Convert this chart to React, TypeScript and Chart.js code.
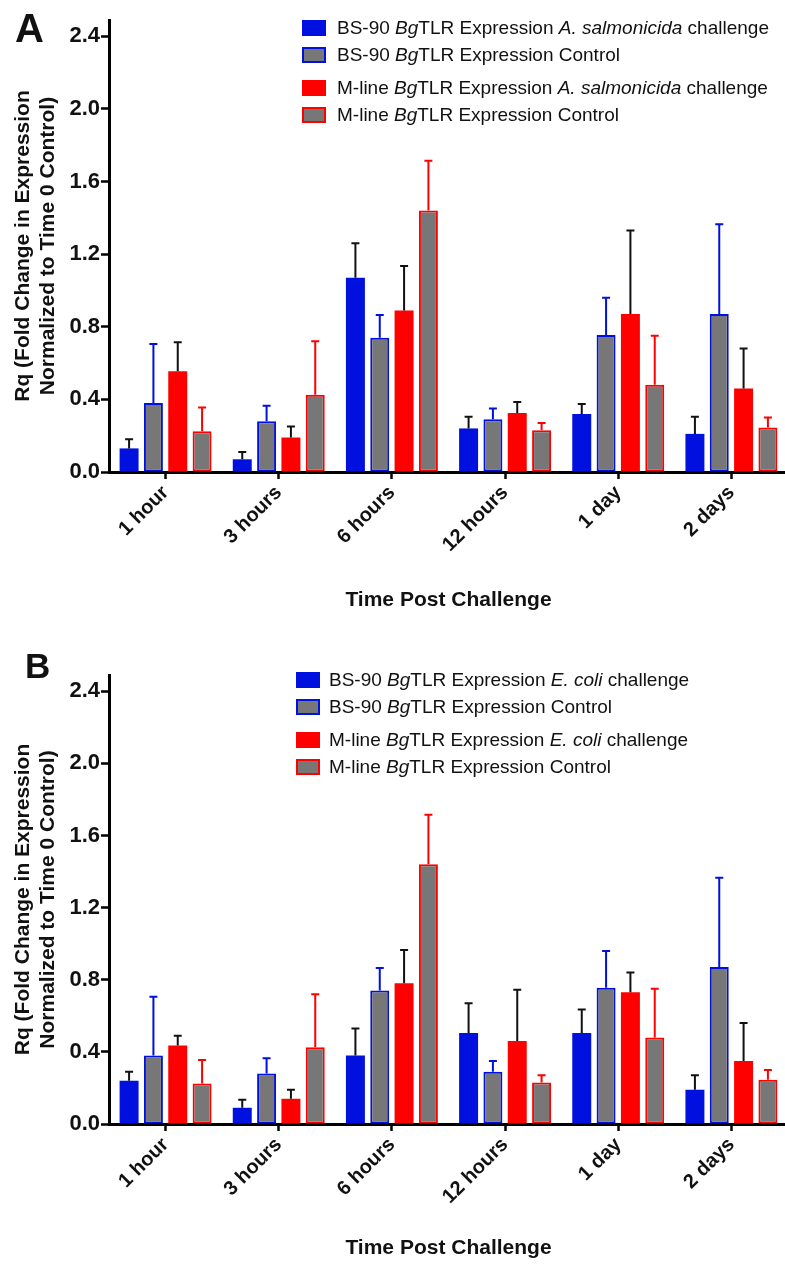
import React, { useEffect, useRef } from "react";
import { Chart, registerables } from "chart.js";

Chart.register(...registerables);

const FONT = '"Liberation Sans", Arial, Helvetica, sans-serif';

// ---------- data ----------
const categories = ["1 hour", "3 hours", "6 hours", "12 hours", "1 day", "2 days"];
const yTickValues = [0, 0.4, 0.8, 1.2, 1.6, 2.0, 2.4];

// Controls (same in both panels)
const bs90ControlMean = [0.38, 0.28, 0.74, 0.29, 0.755, 0.87];
const bs90ControlSD = [0.325, 0.085, 0.125, 0.06, 0.205, 0.495];
const mlineControlMean = [0.225, 0.425, 1.44, 0.23, 0.48, 0.245];
const mlineControlSD = [0.13, 0.295, 0.275, 0.04, 0.27, 0.055];

// Panel A: A. salmonicida challenge
const bs90SalmonicidaMean = [0.13, 0.07, 1.07, 0.24, 0.32, 0.21];
const bs90SalmonicidaSD = [0.05, 0.04, 0.19, 0.065, 0.055, 0.095];
const mlineSalmonicidaMean = [0.555, 0.19, 0.89, 0.325, 0.87, 0.46];
const mlineSalmonicidaSD = [0.16, 0.06, 0.245, 0.06, 0.46, 0.22];

// Panel B: E. coli challenge
const bs90EcoliMean = [0.24, 0.09, 0.38, 0.505, 0.505, 0.19];
const bs90EcoliSD = [0.05, 0.045, 0.15, 0.165, 0.13, 0.08];
const mlineEcoliMean = [0.435, 0.14, 0.78, 0.46, 0.73, 0.35];
const mlineEcoliSD = [0.055, 0.05, 0.185, 0.285, 0.11, 0.21];

type Seg = [string, boolean];
const legendA: Seg[][] = [
  [["BS-90 ", false], ["Bg", true], ["TLR Expression ", false], ["A. salmonicida", true], [" challenge", false]],
  [["BS-90 ", false], ["Bg", true], ["TLR Expression Control", false]],
  [["M-line ", false], ["Bg", true], ["TLR Expression ", false], ["A. salmonicida", true], [" challenge", false]],
  [["M-line ", false], ["Bg", true], ["TLR Expression Control", false]],
];
const legendB: Seg[][] = [
  [["BS-90 ", false], ["Bg", true], ["TLR Expression ", false], ["E. coli", true], [" challenge", false]],
  [["BS-90 ", false], ["Bg", true], ["TLR Expression Control", false]],
  [["M-line ", false], ["Bg", true], ["TLR Expression ", false], ["E. coli", true], [" challenge", false]],
  [["M-line ", false], ["Bg", true], ["TLR Expression Control", false]],
];

const yTitle = ["Rq (Fold Change in Expression", "Normalized to Time 0 Control)"];
const xTitle = "Time Post Challenge";

// ---------- styles ----------
const BLUE = "#0010DE";
const RED = "#FF0000";
const GREY = "#777777";
const BLACK = "#111111";

interface PanelProps {
  letter: string;
  letterSize: number;
  letterX: number;
  letterBaseline: number;
  legend: Seg[][];
  legendBoxX: number;
  legendTextX: number;
  challengeBs90: number[];
  challengeBs90SD: number[];
  challengeMline: number[];
  challengeMlineSD: number[];
  height: number;
  padTop: number;
  plotBottom: number;
  titleCenterY: number;
}

function Panel(p: PanelProps) {
  const ref = useRef<HTMLCanvasElement | null>(null);

  useEffect(() => {
    const canvas = ref.current;
    if (!canvas) return;
    const W = 790;
    const H = p.height;
    const xHeight = H - p.plotBottom;
    const titleFontSize = 21;
    const titleLH = 25;
    const titlePadBottom = H - p.titleCenterY - titleLH / 2;
    const legendRowsY = [28, 55, 88, 115];

    const decor = {
      id: "decor",
      afterDatasetsDraw(chart: any) {
        const ctx = chart.ctx;
        const yScale = chart.scales.y;
        ctx.save();
        chart.data.datasets.forEach((ds: any, i: number) => {
          const meta = chart.getDatasetMeta(i);
          meta.data.forEach((bar: any, j: number) => {
            const x = bar.x;
            const y0 = yScale.getPixelForValue(ds.data[j]);
            const y1 = yScale.getPixelForValue(ds.data[j] + ds.errors[j]);
            ctx.strokeStyle = ds.errorColor;
            ctx.lineWidth = 2;
            ctx.lineCap = "butt";
            ctx.beginPath();
            ctx.moveTo(x, y0);
            ctx.lineTo(x, y1);
            ctx.moveTo(x - 4, y1);
            ctx.lineTo(x + 4, y1);
            ctx.stroke();
          });
        });
        ctx.restore();
      },
      afterDraw(chart: any) {
        const ctx = chart.ctx;
        ctx.save();
        // panel letter
        ctx.fillStyle = BLACK;
        ctx.font = `bold ${p.letterSize}px ${FONT}`;
        ctx.textBaseline = "alphabetic";
        ctx.textAlign = "left";
        ctx.fillText(p.letter, p.letterX, p.letterBaseline);
        // legend
        const boxStyles = [
          { fill: BLUE, stroke: null },
          { fill: GREY, stroke: BLUE },
          { fill: RED, stroke: null },
          { fill: GREY, stroke: RED },
        ];
        p.legend.forEach((segs, r) => {
          const cy = legendRowsY[r];
          const bs = boxStyles[r];
          ctx.fillStyle = bs.fill;
          ctx.fillRect(p.legendBoxX, cy - 8, 24, 16);
          if (bs.stroke) {
            ctx.strokeStyle = bs.stroke;
            ctx.lineWidth = 2;
            ctx.strokeRect(p.legendBoxX + 1, cy - 7, 22, 14);
          }
          let x = p.legendTextX;
          ctx.fillStyle = BLACK;
          ctx.textBaseline = "middle";
          segs.forEach(([t, it]) => {
            ctx.font = `${it ? "italic " : ""}19px ${FONT}`;
            ctx.fillText(t, x, cy + 1);
            x += ctx.measureText(t).width;
          });
        });
        ctx.restore();
      },
    };

    const chart = new Chart(canvas, {
      type: "bar",
      data: {
        labels: categories,
        datasets: [
          {
            label: "BS-90 challenge",
            data: p.challengeBs90,
            errors: p.challengeBs90SD,
            errorColor: BLACK,
            backgroundColor: BLUE,
            borderWidth: 0,
          },
          {
            label: "BS-90 control",
            data: bs90ControlMean,
            errors: bs90ControlSD,
            errorColor: BLUE,
            backgroundColor: GREY,
            borderColor: BLUE,
            borderWidth: 2,
            borderSkipped: false,
          },
          {
            label: "M-line challenge",
            data: p.challengeMline,
            errors: p.challengeMlineSD,
            errorColor: BLACK,
            backgroundColor: RED,
            borderWidth: 0,
          },
          {
            label: "M-line control",
            data: mlineControlMean,
            errors: mlineControlSD,
            errorColor: RED,
            backgroundColor: GREY,
            borderColor: RED,
            borderWidth: 2,
            borderSkipped: false,
          },
        ] as any,
      },
      options: {
        responsive: false,
        animation: false,
        layout: { padding: { top: p.padTop, left: 0, right: 2, bottom: 0 } },
        plugins: { legend: { display: false }, tooltip: { enabled: false } },
        datasets: { bar: { categoryPercentage: 0.86, barPercentage: 0.78 } },
        scales: {
          x: {
            type: "category",
            offset: true,
            grid: {
              display: true,
              drawOnChartArea: false,
              offset: false,
              tickLength: 7,
              tickWidth: 2.5,
              tickColor: "#000",
            },
            border: { display: true, color: "#000", width: 3 },
            ticks: {
              color: BLACK,
              font: { family: FONT, size: 20, weight: "bold" },
              minRotation: 45,
              maxRotation: 45,
              autoSkip: false,
              padding: 2,
            },
            title: {
              display: true,
              text: xTitle,
              color: BLACK,
              font: { family: FONT, size: titleFontSize, weight: "bold", lineHeight: titleLH / titleFontSize },
              padding: { top: 0, bottom: titlePadBottom },
            },
            afterFit: (s: any) => {
              s.height = xHeight;
            },
          },
          y: {
            min: 0,
            max: 2.49,
            afterBuildTicks: (s: any) => {
              s.ticks = yTickValues.map((v) => ({ value: v }));
            },
            grid: {
              display: true,
              drawOnChartArea: false,
              tickLength: 8,
              tickWidth: 2.5,
              tickColor: "#000",
            },
            border: { display: true, color: "#000", width: 3 },
            ticks: {
              color: BLACK,
              font: { family: FONT, size: 22, weight: "bold" },
              padding: 1,
              callback: (v: any) => Number(v).toFixed(1),
            },
            title: {
              display: true,
              text: yTitle,
              color: BLACK,
              font: { family: FONT, size: 21, weight: "bold", lineHeight: 25 / 21 },
              padding: { top: 10.5, bottom: 0 },
            },
            afterFit: (s: any) => {
              s.width = 109;
            },
          },
        },
      } as any,
      plugins: [decor],
    });
    return () => chart.destroy();
  }, []);

  return (
    <canvas
      ref={ref}
      width={790}
      height={p.height}
      style={{ display: "block", width: 790, height: p.height }}
    />
  );
}

export default function App() {
  return (
    <div
      style={{
        position: "absolute",
        top: 0,
        left: 0,
        width: 785,
        height: 1266,
        overflow: "hidden",
        background: "#fff",
      }}
    >
      <Panel
        letter="A"
        letterSize={40}
        letterX={15}
        letterBaseline={42}
        legend={legendA}
        legendBoxX={302}
        legendTextX={337}
        challengeBs90={bs90SalmonicidaMean}
        challengeBs90SD={bs90SalmonicidaSD}
        challengeMline={mlineSalmonicidaMean}
        challengeMlineSD={mlineSalmonicidaSD}
        height={652}
        padTop={20}
        plotBottom={472}
        titleCenterY={600}
      />
      <Panel
        letter="B"
        letterSize={35}
        letterX={25}
        letterBaseline={26}
        legend={legendB}
        legendBoxX={296}
        legendTextX={329}
        challengeBs90={bs90EcoliMean}
        challengeBs90SD={bs90EcoliSD}
        challengeMline={mlineEcoliMean}
        challengeMlineSD={mlineEcoliSD}
        height={614}
        padTop={23}
        plotBottom={472}
        titleCenterY={596}
      />
    </div>
  );
}
